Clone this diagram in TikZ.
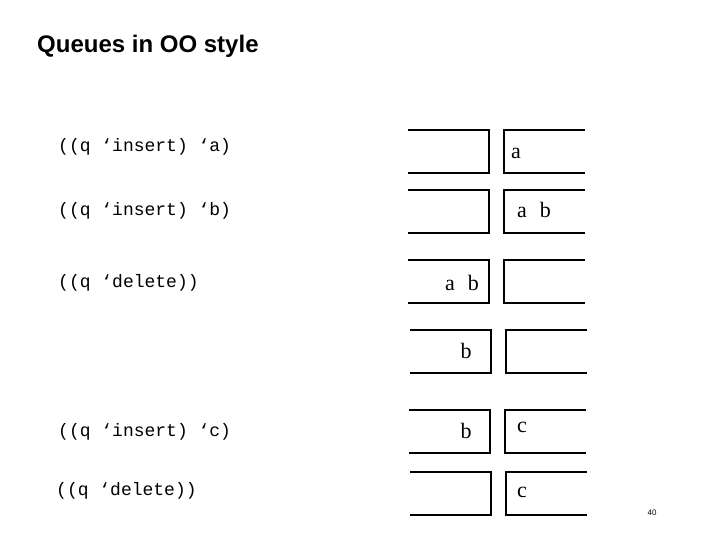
\documentclass[tikz,border=0pt]{standalone}
\usepackage{fontspec}
\setmainfont{Liberation Serif}
\setsansfont{Liberation Sans}
\setmonofont{Liberation Mono}
\usetikzlibrary{positioning}

\begin{document}
\begin{tikzpicture}
  [
    x = 1pt, y = -1pt,
    code/.style = {anchor=west, font=\ttfamily\fontsize{18}{20}\selectfont, inner sep=0},
    item/.style = {font=\fontsize{22}{26}\selectfont, inner sep=0},
    half/.style = {line width=2.8pt}
  ]
  \useasboundingbox (0,0) rectangle (720,540);
  \node [anchor=west, inner sep=0, font=\sffamily\bfseries\fontsize{24}{28}\selectfont] (title) at (37,46) {Queues in OO style};
  % code lines
  \node [code] (ins1) at (58,147) {((q ‘insert) ‘a)};
  \node [code] (ins2) at (58,211) {((q ‘insert) ‘b)};
  \node [code] (del1) at (58,283) {((q ‘delete))};
  \node [code] (ins3) at (58,432) {((q ‘insert) ‘c)};
  \node [code] (del2) at (56,491) {((q ‘delete))};
  % queue halves, one pair per row
  \foreach \top/\dx in {130/0, 190/0, 260/0, 330/2, 410/1, 472/2} {
    \draw [half] (408+\dx,\top) -- (489+\dx,\top) -- (489+\dx,\top+43) -- (408+\dx,\top+43);
    \draw [half] (585+\dx,\top) -- (504+\dx,\top) -- (504+\dx,\top+43) -- (585+\dx,\top+43);
  }
  % contents
  \node [item] (a1) at (516,153) {a};
  \node [item] (ab1) at (534,210) {a\hspace{0.6em}b};
  \node [item] (ab2) at (462,283) {a\hspace{0.6em}b};
  \node [item] (b1) at (466,351) {b};
  \node [item] (b2) at (466,431) {b};
  \node [item] (c1) at (522,427) {c};
  \node [item] (c2) at (522,492) {c};
  \node [font=\sffamily\fontsize{8}{9}\selectfont, inner sep=0] (page) at (652,513) {40};
\end{tikzpicture}
\end{document}
